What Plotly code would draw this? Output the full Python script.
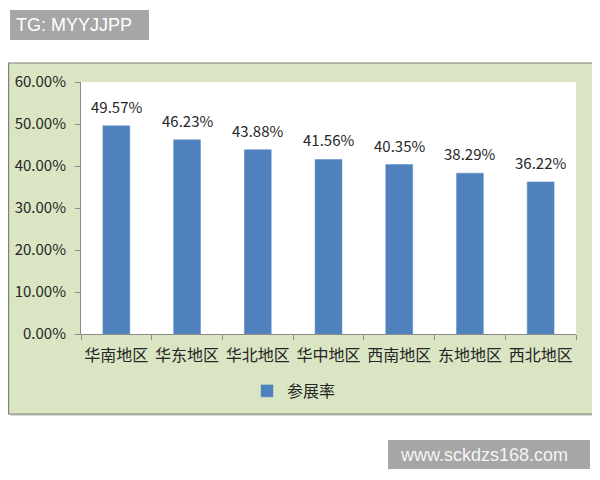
# 各地区参展率柱状图

import plotly.graph_objects as go

regions = ["华南地区", "华东地区", "华北地区", "华中地区", "西南地区", "东地地区", "西北地区"]
rates = [0.4957, 0.4623, 0.4388, 0.4156, 0.4035, 0.3829, 0.3622]
series_name = "参展率"
y_ticks = [0, 0.1, 0.2, 0.3, 0.4, 0.5, 0.6]

# page offset (body margin) and plot area in page pixels
OFF = 8
W, H = 600 - OFF, 480 - OFF
L, R, T, B = 81 - OFF, 576 - OFF, 82 - OFF, 334 - OFF


def px2x(px):
    return (px - OFF - L) / (R - L)


def py2y(py):
    return (B - (py - OFF)) / (B - T)


fig = go.Figure(go.Bar(
    x=regions,
    y=rates,
    name=series_name,
    width=0.38,
    marker=dict(color="#4F81BD", line=dict(color="#5b8cc6", width=0.5)),
    showlegend=True,
))

shapes = [
    # chart area shadow + box
    dict(type="rect", xref="paper", yref="paper", layer="below",
         x0=px2x(10), x1=px2x(596), y0=py2y(416), y1=py2y(66),
         fillcolor="#d9d9d9", line=dict(width=0)),
    dict(type="rect", xref="paper", yref="paper", layer="below",
         x0=px2x(8.6), x1=px2x(594), y0=py2y(414), y1=py2y(63),
         fillcolor="#dae5c3", line=dict(color="#7f8078", width=1.2)),
    # white plot area
    dict(type="rect", xref="paper", yref="paper", layer="below",
         x0=0, x1=1, y0=0, y1=1,
         fillcolor="white", line=dict(width=0)),
    # watermark boxes
    dict(type="rect", xref="paper", yref="paper", layer="above",
         x0=px2x(10), x1=px2x(149), y0=py2y(40), y1=py2y(10),
         fillcolor="#a6a6a6", line=dict(width=0)),
    dict(type="rect", xref="paper", yref="paper", layer="above",
         x0=px2x(388), x1=px2x(590), y0=py2y(469), y1=py2y(440),
         fillcolor="#a6a6a6", line=dict(width=0)),
]

# value labels above bars
annotations = [
    dict(text=f"{v:.2%}", x=r, y=v, xref="x", yref="y",
         xanchor="center", yanchor="bottom", yshift=7, showarrow=False,
         font=dict(size=15, color="#262626", family="Noto Sans CJK SC"))
    for r, v in zip(regions, rates)
]

annotations += [
    dict(text="TG: MYYJJPP", xref="paper", yref="paper",
         x=px2x(14), y=py2y(25), xanchor="left", yanchor="middle",
         showarrow=False, font=dict(size=18, color="white", family="Liberation Sans")),
    dict(text="www.sckdzs168.com", xref="paper", yref="paper",
         x=px2x(484), y=py2y(455), xanchor="center", yanchor="middle",
         showarrow=False, font=dict(size=18, color="#f4f4f4", family="Liberation Sans")),
]

fig.update_layout(
    width=W, height=H,
    margin=dict(l=L, r=W - R, t=T, b=H - B, pad=0, autoexpand=False),
    paper_bgcolor="white",
    plot_bgcolor="rgba(0,0,0,0)",
    font=dict(family="Noto Sans CJK SC", color="#262626"),
    shapes=shapes,
    annotations=annotations,
    legend=dict(
        orientation="h", x=px2x(247), y=py2y(391),
        xanchor="left", yanchor="middle",
        itemwidth=30,
        font=dict(size=16, color="#262626"),
        bgcolor="rgba(0,0,0,0)",
    ),
    xaxis=dict(
        showline=True, linecolor="#8c8c8c", linewidth=1,
        ticks="outside", tickson="boundaries", ticklen=5, tickcolor="#8c8c8c",
        tickangle=0, automargin=False, ticklabelstandoff=7,
        tickfont=dict(size=16, color="#262626"),
        showgrid=False,
    ),
    yaxis=dict(
        range=[0, 0.6], tickvals=y_ticks, tickformat=".2%",
        showline=True, linecolor="#8c8c8c", linewidth=1,
        ticks="outside", ticklen=5, tickcolor="#8c8c8c", automargin=False,
        ticklabelstandoff=6,
        tickfont=dict(size=15, color="#262626"),
        showgrid=False, zeroline=False,
    ),
)

fig.write_html("out.html")
